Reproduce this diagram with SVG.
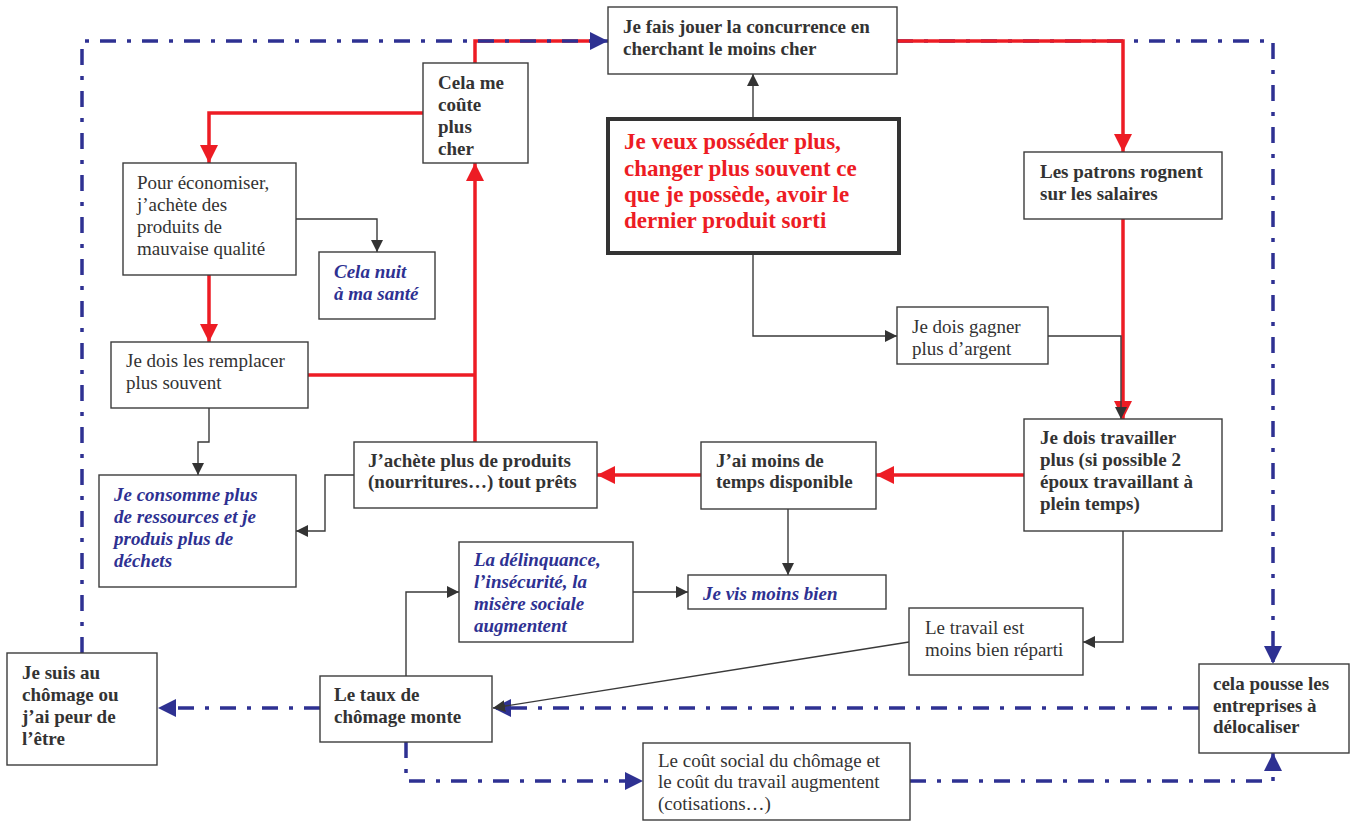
<svg xmlns="http://www.w3.org/2000/svg" width="1353" height="821" viewBox="0 0 1353 821">
<style>
  .box{fill:#fff;stroke:#3c3c3c;stroke-width:1.4}
  .t{font-family:"Liberation Serif","Times New Roman",serif;font-size:19px;fill:#333}
  .b{font-weight:bold}
  .bi{font-weight:bold;font-style:italic;fill:#2e3192}
  .rt{font-weight:bold;font-size:23px;fill:#ed1c24}
  .dk{fill:none;stroke:#3a3a3a;stroke-width:1.4}
  .rd{fill:none;stroke:#ed1c24;stroke-width:3.5}
  .bl{fill:none;stroke:#2e3192;stroke-width:3.5;stroke-dasharray:16 11 4 11}
</style>
<defs>
  <marker id="ad" markerUnits="userSpaceOnUse" markerWidth="12" markerHeight="12" refX="12" refY="6" orient="auto"><path d="M0,0 L12,6 L0,12 z" fill="#333"/></marker>
  <marker id="ar" markerUnits="userSpaceOnUse" markerWidth="18" markerHeight="18" refX="18" refY="9" orient="auto"><path d="M0,0 L18,9 L0,18 z" fill="#ed1c24"/></marker>
  <marker id="ab" markerUnits="userSpaceOnUse" markerWidth="18" markerHeight="18" refX="18" refY="9" orient="auto"><path d="M0,0 L18,9 L0,18 z" fill="#2e3192"/></marker>
</defs>

<g id="connectors">
  <path class="rd" d="M475,63 L475,41 L600,41"/>
  <path class="bl" d="M82,653 L82,41 L608,41" marker-end="url(#ab)"/>
  <path class="bl" d="M897,41 L1273,41 L1273,664" marker-end="url(#ab)"/>
  <path class="rd" d="M897,41 L1123,41 L1123,152" marker-end="url(#ar)"/>
  <path class="bl" d="M1199,708 L493,708" marker-end="url(#ab)"/>
  <path class="bl" d="M320,708 L158,708" marker-end="url(#ab)"/>
  <path class="bl" d="M406,742 L406,781 L643,781" marker-end="url(#ab)"/>
  <path class="bl" d="M910,781 L1273,781 L1273,753" marker-end="url(#ab)"/>

  <path class="rd" d="M423,113 L209,113 L209,163" marker-end="url(#ar)"/>
  <path class="rd" d="M209,275 L209,342" marker-end="url(#ar)"/>
  <path class="rd" d="M308,375 L475,375"/>
  <path class="rd" d="M475,442 L475,163" marker-end="url(#ar)"/>
  <path class="rd" d="M1024,475 L876,475" marker-end="url(#ar)"/>
  <path class="rd" d="M701,475 L597,475" marker-end="url(#ar)"/>
  <path class="rd" d="M1123,219 L1123,419" marker-end="url(#ar)"/>

  <path class="dk" d="M753,119 L753,74" marker-end="url(#ad)"/>
  <path class="dk" d="M753,253 L753,336 L897,336" marker-end="url(#ad)"/>
  <path class="dk" d="M1048,336 L1121,336 L1121,419" marker-end="url(#ad)"/>
  <path class="dk" d="M296,219 L377,219 L377,252" marker-end="url(#ad)"/>
  <path class="dk" d="M209,408 L209,442 L198,442 L198,475" marker-end="url(#ad)"/>
  <path class="dk" d="M354,475 L325,475 L325,531 L296,531" marker-end="url(#ad)"/>
  <path class="dk" d="M788,509 L788,575" marker-end="url(#ad)"/>
  <path class="dk" d="M633,592 L688,592" marker-end="url(#ad)"/>
  <path class="dk" d="M406,676 L406,592 L459,592" marker-end="url(#ad)"/>
  <path class="dk" d="M1123,531 L1123,642 L1083,642" marker-end="url(#ad)"/>
  <path class="dk" d="M909,642 L493,708" marker-end="url(#ad)"/>
</g>

<g id="n-concurrence">
  <rect class="box" x="608" y="7" width="289" height="67"/>
  <text class="t b"><tspan x="623" y="33">Je fais jouer la concurrence en</tspan><tspan x="623" y="55">cherchant le moins cher</tspan></text>
</g>
<g id="n-posseder">
  <rect x="608" y="119" width="291" height="134" fill="#fff" stroke="#333" stroke-width="4"/>
  <text class="t rt"><tspan x="624" y="149">Je veux posséder plus,</tspan><tspan x="624" y="176">changer plus souvent ce</tspan><tspan x="624" y="202">que je possède, avoir le</tspan><tspan x="624" y="228">dernier produit sorti</tspan></text>
</g>
<g id="n-cher">
  <rect class="box" x="423" y="63" width="105" height="100"/>
  <text class="t b"><tspan x="438" y="89">Cela me</tspan><tspan x="438" y="111">coûte</tspan><tspan x="438" y="133">plus</tspan><tspan x="438" y="155">cher</tspan></text>
</g>
<g id="n-economiser">
  <rect class="box" x="123" y="163" width="173" height="112"/>
  <text class="t"><tspan x="137" y="189">Pour économiser,</tspan><tspan x="137" y="211">j’achète des</tspan><tspan x="137" y="233">produits de</tspan><tspan x="137" y="255">mauvaise qualité</tspan></text>
</g>
<g id="n-sante">
  <rect class="box" x="319" y="252" width="116" height="67"/>
  <text class="t bi"><tspan x="334" y="278">Cela nuit</tspan><tspan x="334" y="300">à ma santé</tspan></text>
</g>
<g id="n-remplacer">
  <rect class="box" x="111" y="342" width="197" height="66"/>
  <text class="t"><tspan x="126" y="367">Je dois les remplacer</tspan><tspan x="126" y="389">plus souvent</tspan></text>
</g>
<g id="n-consomme">
  <rect class="box" x="99" y="475" width="197" height="112"/>
  <text class="t bi"><tspan x="114" y="501">Je consomme plus</tspan><tspan x="114" y="523">de ressources et je</tspan><tspan x="114" y="545">produis plus de</tspan><tspan x="114" y="567">déchets</tspan></text>
</g>
<g id="n-achete">
  <rect class="box" x="354" y="442" width="243" height="66"/>
  <text class="t b"><tspan x="368" y="467">J’achète plus de produits</tspan><tspan x="368" y="488">(nourritures…) tout prêts</tspan></text>
</g>
<g id="n-temps">
  <rect class="box" x="701" y="442" width="175" height="67"/>
  <text class="t b"><tspan x="716" y="467">J’ai moins de</tspan><tspan x="716" y="488">temps disponible</tspan></text>
</g>
<g id="n-travailler">
  <rect class="box" x="1024" y="419" width="198" height="112"/>
  <text class="t b"><tspan x="1040" y="444">Je dois travailler</tspan><tspan x="1040" y="466">plus (si possible 2</tspan><tspan x="1040" y="488">époux travaillant à</tspan><tspan x="1040" y="510">plein temps)</tspan></text>
</g>
<g id="n-gagner">
  <rect class="box" x="897" y="307" width="151" height="57"/>
  <text class="t"><tspan x="912" y="333">Je dois gagner</tspan><tspan x="912" y="355">plus d’argent</tspan></text>
</g>
<g id="n-patrons">
  <rect class="box" x="1024" y="152" width="198" height="67"/>
  <text class="t b"><tspan x="1040" y="178">Les patrons rognent</tspan><tspan x="1040" y="200">sur les salaires</tspan></text>
</g>
<g id="n-delinquance">
  <rect class="box" x="459" y="542" width="174" height="100"/>
  <text class="t bi"><tspan x="474" y="566">La délinquance,</tspan><tspan x="474" y="588">l’insécurité, la</tspan><tspan x="474" y="610">misère sociale</tspan><tspan x="474" y="632">augmentent</tspan></text>
</g>
<g id="n-vis">
  <rect class="box" x="688" y="575" width="198" height="34"/>
  <text class="t bi"><tspan x="703" y="600">Je vis moins bien</tspan></text>
</g>
<g id="n-reparti">
  <rect class="box" x="909" y="608" width="174" height="67"/>
  <text class="t"><tspan x="925" y="634">Le travail est</tspan><tspan x="925" y="656">moins bien réparti</tspan></text>
</g>
<g id="n-delocaliser">
  <rect class="box" x="1199" y="664" width="150" height="89"/>
  <text class="t b"><tspan x="1213" y="690">cela pousse les</tspan><tspan x="1213" y="712">entreprises à</tspan><tspan x="1213" y="733">délocaliser</tspan></text>
</g>
<g id="n-cout">
  <rect class="box" x="643" y="743" width="267" height="77"/>
  <text class="t"><tspan x="658" y="767">Le coût social du chômage et</tspan><tspan x="658" y="788">le coût du travail augmentent</tspan><tspan x="658" y="810">(cotisations…)</tspan></text>
</g>
<g id="n-taux">
  <rect class="box" x="320" y="676" width="172" height="66"/>
  <text class="t b"><tspan x="334" y="701">Le taux de</tspan><tspan x="334" y="723">chômage monte</tspan></text>
</g>
<g id="n-chomage">
  <rect class="box" x="7" y="653" width="150" height="112"/>
  <text class="t b"><tspan x="22" y="679">Je suis au</tspan><tspan x="22" y="701">chômage ou</tspan><tspan x="22" y="723">j’ai peur de</tspan><tspan x="22" y="745">l’être</tspan></text>
</g>
</svg>
